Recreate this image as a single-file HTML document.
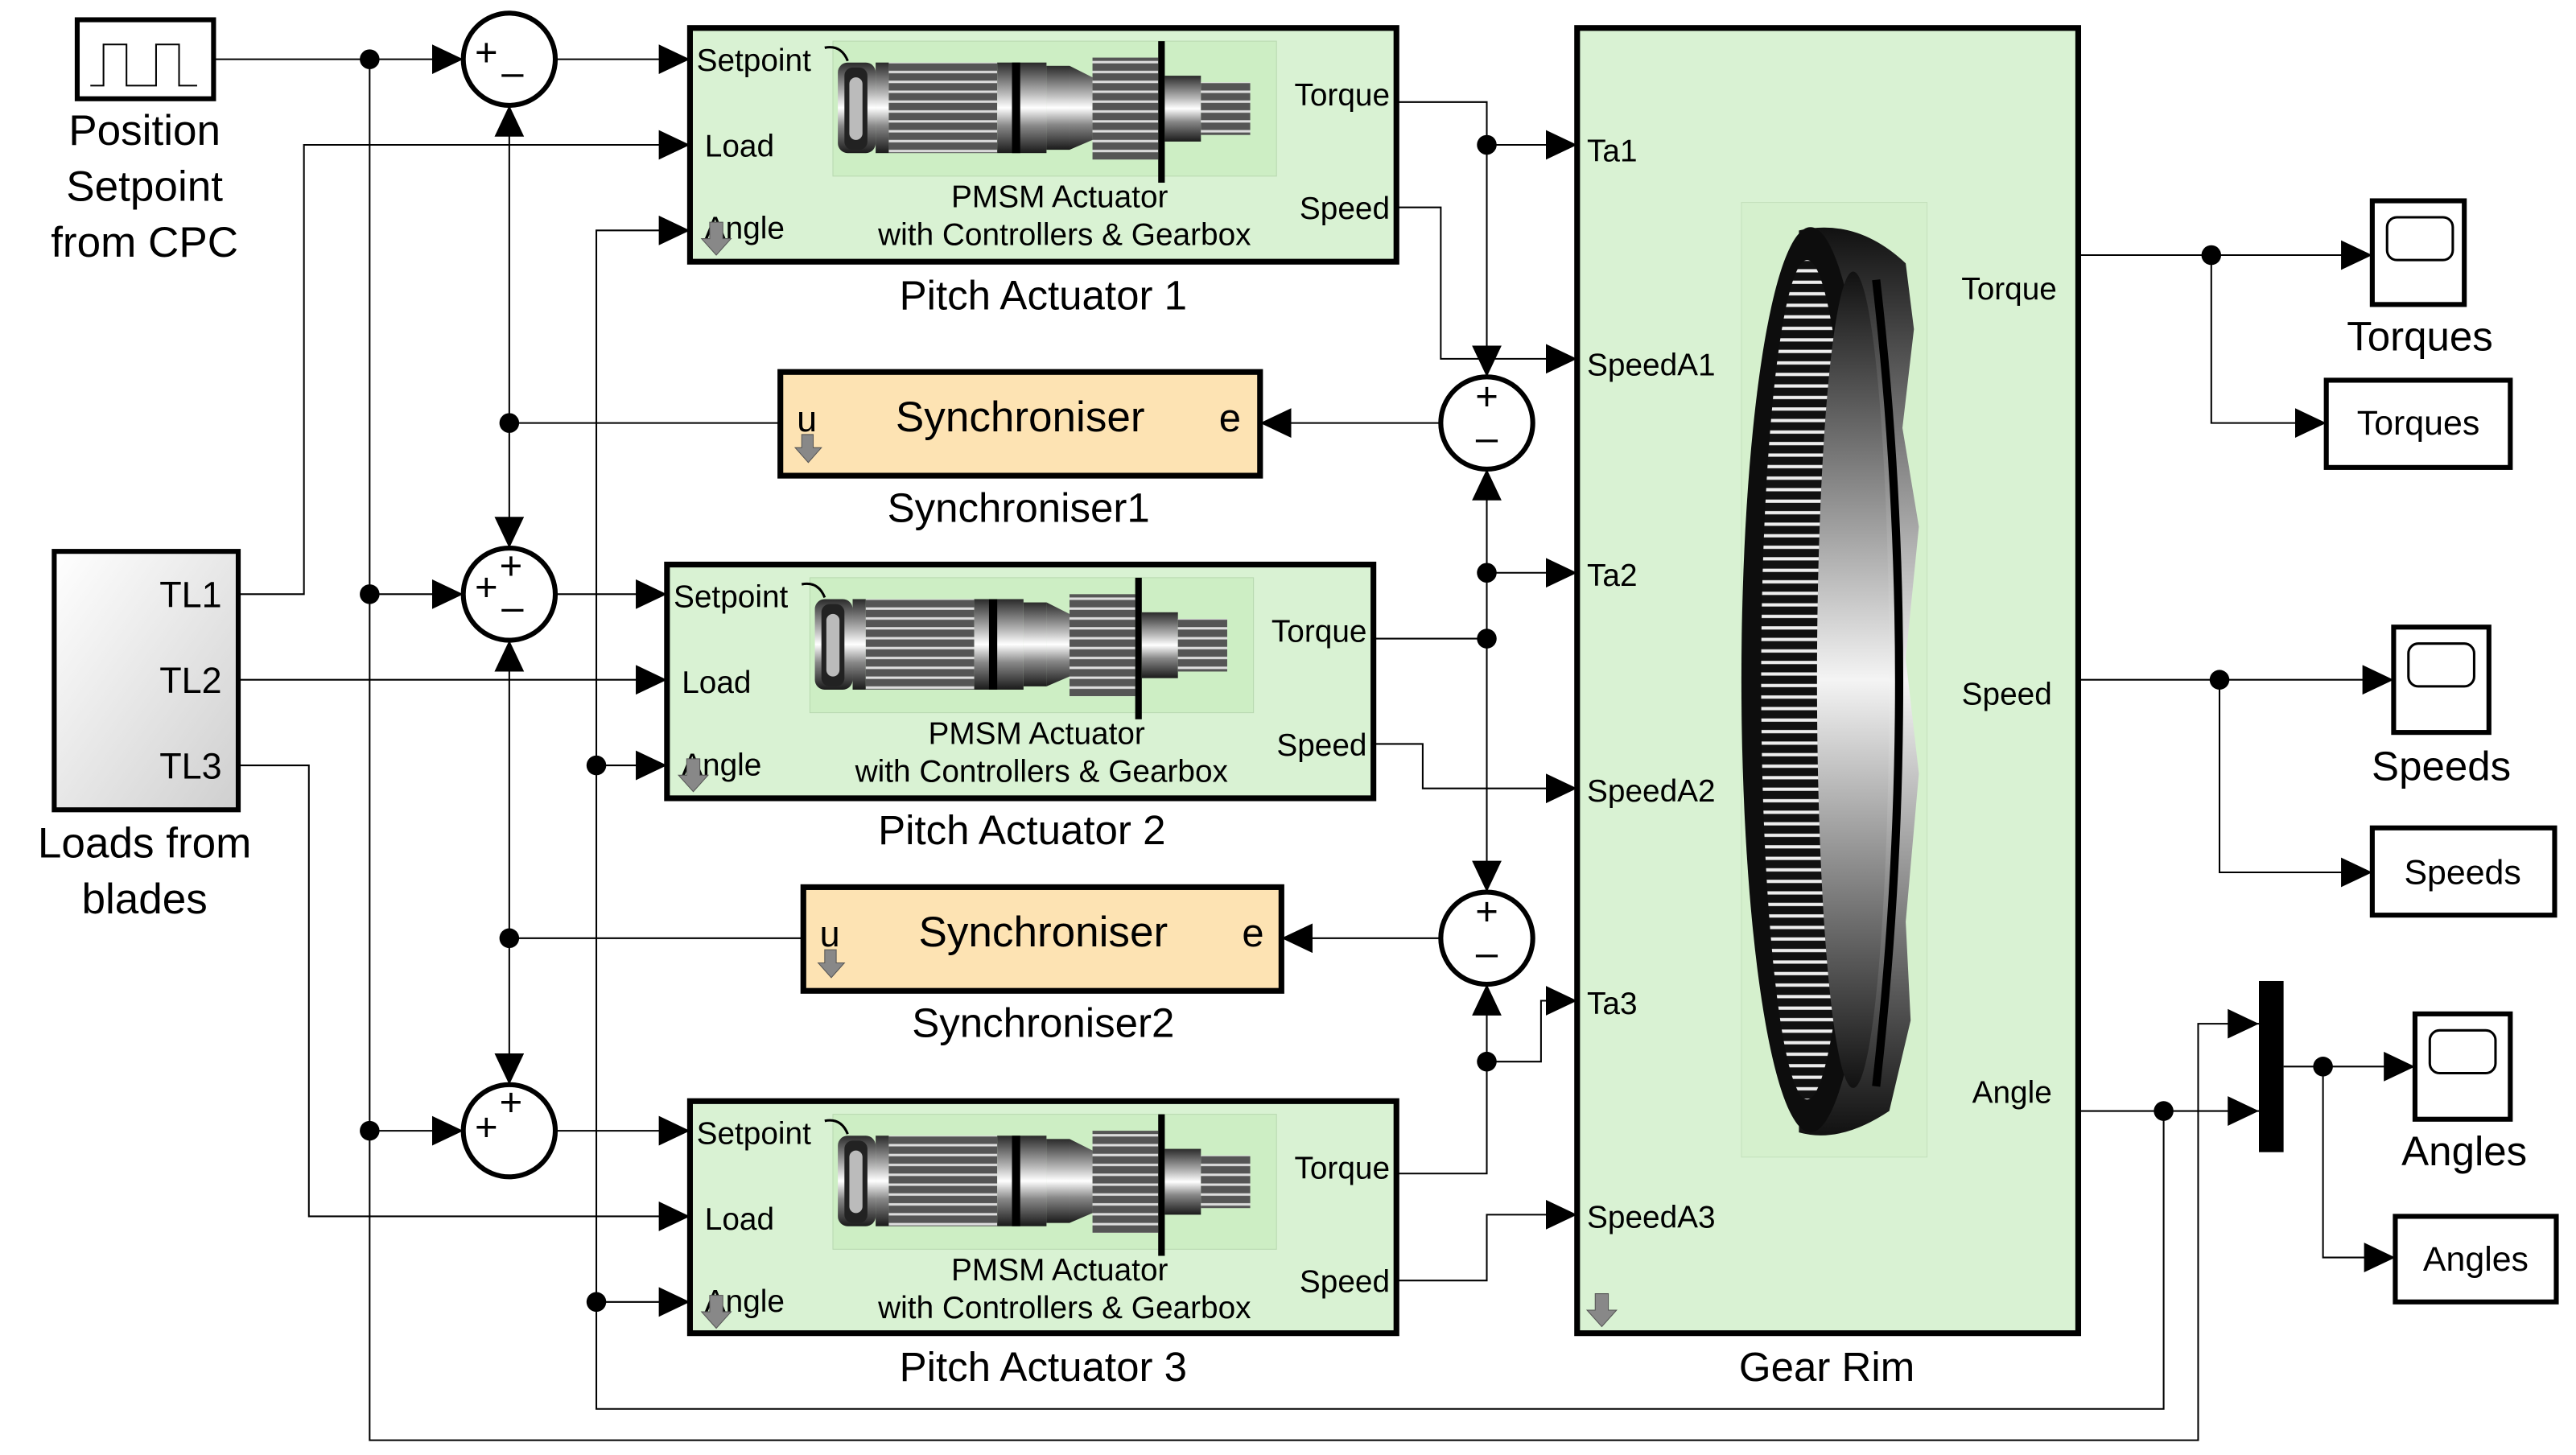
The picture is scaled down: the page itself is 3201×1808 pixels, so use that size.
<!DOCTYPE html>
<html><head><meta charset="utf-8"><style>
html,body{margin:0;padding:0;background:#fff;}
svg{display:block;}
text{font-family:"Liberation Sans",sans-serif;fill:#000;}
</style></head><body>
<svg width="3201" height="1808" viewBox="0 0 1568 884" preserveAspectRatio="none" xmlns="http://www.w3.org/2000/svg">
<defs>
<linearGradient id="met" x1="0" y1="0" x2="0" y2="1">
<stop offset="0" stop-color="#2a2a2a"/><stop offset=".35" stop-color="#bbb"/><stop offset=".5" stop-color="#fff"/><stop offset=".7" stop-color="#888"/><stop offset="1" stop-color="#1a1a1a"/></linearGradient>
<linearGradient id="ring" x1="0" y1="0" x2="0" y2="1">
<stop offset="0" stop-color="#111"/><stop offset=".5" stop-color="#f4f4f4"/><stop offset="1" stop-color="#111"/></linearGradient>
<linearGradient id="loads" x1="0" y1="0" x2="1" y2="1">
<stop offset="0" stop-color="#fff"/><stop offset="1" stop-color="#cfcfcf"/></linearGradient>
<pattern id="teeth" width="10" height="7" patternUnits="userSpaceOnUse"><rect width="10" height="7" fill="#111"/><rect y="2.5" width="10" height="2" fill="#eee"/></pattern>
<pattern id="str" width="10" height="6" patternUnits="userSpaceOnUse"><rect width="10" height="6" fill="#555"/><rect y="2" width="10" height="1.5" fill="#ddd"/></pattern>
<marker id="ar" markerWidth="20" markerHeight="20" refX="19" refY="9" orient="auto" markerUnits="userSpaceOnUse"><path d="M0,0 L19,9 L0,18 Z" fill="#000"/></marker>
<g id="motor">
<rect x="87" y="8" width="270" height="82" fill="#cdeec4" stroke="#b8d8b0" stroke-width=".5"/>
<path d="M82,12 q10,-2 14,8" stroke="#000" fill="none" stroke-width="1.5"/>
<rect x="90" y="21" width="23" height="55" rx="6" fill="url(#met)"/>
<rect x="94" y="24" width="14" height="50" rx="5" fill="#222"/>
<rect x="97" y="30" width="8" height="38" rx="4" fill="#bbb"/>
<rect x="113" y="21" width="8" height="55" fill="url(#met)"/>
<rect x="121" y="21" width="66" height="55" fill="url(#str)"/>
<rect x="187" y="21" width="30" height="55" fill="url(#met)"/>
<rect x="196" y="21" width="5" height="55" fill="#000"/>
<rect x="217" y="23" width="14" height="51" fill="url(#met)"/>
<path d="M231,23 L245,30 L245,68 L231,74 Z" fill="url(#met)"/>
<rect x="245" y="18" width="40" height="62" fill="url(#str)"/>
<rect x="285" y="8" width="4" height="86" fill="#000"/>
<rect x="289" y="29" width="22" height="40" fill="url(#met)"/>
<rect x="311" y="33" width="30" height="32" fill="url(#str)"/>
</g>
</defs>

<g stroke="#000" stroke-width="1" fill="none">
<line x1="130" y1="36" x2="282" y2="36" marker-end="url(#ar)"/>
<polyline points="225,36 225,875 1338,875 1338,622 1375,622" marker-end="url(#ar)"/>
<line x1="225" y1="361" x2="282" y2="361" marker-end="url(#ar)"/>
<line x1="225" y1="687" x2="282" y2="687" marker-end="url(#ar)"/>
<line x1="338" y1="36" x2="420" y2="36" marker-end="url(#ar)"/>
<line x1="338" y1="361" x2="406" y2="361" marker-end="url(#ar)"/>
<line x1="338" y1="687" x2="420" y2="687" marker-end="url(#ar)"/>
<line x1="310" y1="257" x2="310" y2="64" marker-end="url(#ar)"/>
<line x1="310" y1="257" x2="310" y2="333" marker-end="url(#ar)"/>
<line x1="310" y1="257" x2="475" y2="257"/>
<line x1="310" y1="570" x2="310" y2="389" marker-end="url(#ar)"/>
<line x1="310" y1="570" x2="310" y2="659" marker-end="url(#ar)"/>
<line x1="310" y1="570" x2="489" y2="570"/>
<line x1="877" y1="257" x2="767" y2="257" marker-end="url(#ar)"/>
<line x1="877" y1="570" x2="780" y2="570" marker-end="url(#ar)"/>
<polyline points="145,361 185,361 185,88 420,88" marker-end="url(#ar)"/>
<line x1="145" y1="413" x2="406" y2="413" marker-end="url(#ar)"/>
<polyline points="145,465 188,465 188,739 420,739" marker-end="url(#ar)"/>
<polyline points="1265,675 1375,675" marker-end="url(#ar)"/>
<polyline points="1317,675 1317,856 363,856 363,140 420,140" marker-end="url(#ar)"/>
<line x1="363" y1="465" x2="406" y2="465" marker-end="url(#ar)"/>
<line x1="363" y1="791" x2="420" y2="791" marker-end="url(#ar)"/>
<polyline points="850,62 905,62 905,229" marker-end="url(#ar)"/>
<line x1="905" y1="88" x2="960" y2="88" marker-end="url(#ar)"/>
<polyline points="850,126 877,126 877,218 960,218" marker-end="url(#ar)"/>
<line x1="905" y1="388" x2="905" y2="285" marker-end="url(#ar)"/>
<line x1="905" y1="348" x2="960" y2="348" marker-end="url(#ar)"/>
<line x1="836" y1="388" x2="905" y2="388"/>
<line x1="905" y1="388" x2="905" y2="542" marker-end="url(#ar)"/>
<polyline points="836,452 866,452 866,479 960,479" marker-end="url(#ar)"/>
<polyline points="850,713 905,713 905,598" marker-end="url(#ar)"/>
<polyline points="905,645 938,645 938,608 960,608" marker-end="url(#ar)"/>
<polyline points="850,778 905,778 905,738 960,738" marker-end="url(#ar)"/>
<line x1="1265" y1="155" x2="1444" y2="155" marker-end="url(#ar)"/>
<polyline points="1346,155 1346,257 1416,257" marker-end="url(#ar)"/>
<line x1="1265" y1="413" x2="1457" y2="413" marker-end="url(#ar)"/>
<polyline points="1351,413 1351,530 1444,530" marker-end="url(#ar)"/>
<line x1="1390" y1="648" x2="1470" y2="648" marker-end="url(#ar)"/>
<polyline points="1414,648 1414,764 1458,764" marker-end="url(#ar)"/>
</g>

<g fill="#000">
<circle cx="225" cy="36" r="6"/><circle cx="225" cy="361" r="6"/><circle cx="225" cy="687" r="6"/>
<circle cx="310" cy="257" r="6"/><circle cx="310" cy="570" r="6"/>
<circle cx="363" cy="465" r="6"/><circle cx="363" cy="791" r="6"/>
<circle cx="905" cy="88" r="6"/><circle cx="905" cy="348" r="6"/><circle cx="905" cy="388" r="6"/><circle cx="905" cy="645" r="6"/>
<circle cx="1317" cy="675" r="6"/><circle cx="1346" cy="155" r="6"/><circle cx="1351" cy="413" r="6"/><circle cx="1414" cy="648" r="6"/>
</g>

<rect x="47" y="12" width="83" height="48" fill="#fff" stroke="#000" stroke-width="3"/>
<polyline points="55,52 63,52 63,27 77,27 77,52 95,52 95,27 109,27 109,52 120,52" fill="none" stroke="#000" stroke-width="1"/>
<g font-size="26" text-anchor="middle"><text x="88" y="88">Position</text><text x="88" y="122">Setpoint</text><text x="88" y="156">from CPC</text></g>

<rect x="33" y="335" width="112" height="157" fill="url(#loads)" stroke="#000" stroke-width="3"/>
<g font-size="22" text-anchor="end"><text x="135" y="369">TL1</text><text x="135" y="421">TL2</text><text x="135" y="473">TL3</text></g>
<g font-size="26" text-anchor="middle"><text x="88" y="521">Loads from</text><text x="88" y="555">blades</text></g>

<g fill="#fff" stroke="#000" stroke-width="3">
<circle cx="310" cy="36" r="28"/><circle cx="310" cy="361" r="28"/><circle cx="310" cy="687" r="28"/>
<circle cx="905" cy="257" r="28"/><circle cx="905" cy="570" r="28"/></g>
<g font-size="24" text-anchor="middle">
<text x="296" y="40">+</text><text x="312" y="52">–</text>
<text x="296" y="365">+</text><text x="311" y="352">+</text><text x="312" y="377">–</text>
<text x="296" y="693">+</text><text x="311" y="678">+</text>
<text x="905" y="249">+</text><text x="905" y="274">–</text>
<text x="905" y="562">+</text><text x="905" y="587">–</text></g>

<g font-size="19">
<g transform="translate(420,17)">
<rect width="430" height="142" fill="#d9f2d3" stroke="#000" stroke-width="3.5"/>
<use href="#motor"/>
<text x="4" y="26">Setpoint</text><text x="9" y="78">Load</text><text x="9" y="128">Angle</text>
<path d="M12,118 h8 v10 h5 l-9,10 l-9,-10 h5 z" fill="#888" stroke="#555" stroke-width=".5"/>
<text x="426" y="47" text-anchor="end">Torque</text><text x="426" y="116" text-anchor="end">Speed</text>
<text x="225" y="109" text-anchor="middle">PMSM Actuator</text><text x="228" y="132" text-anchor="middle">with Controllers &amp; Gearbox</text>
</g>
<g transform="translate(406,343)">
<rect width="430" height="142" fill="#d9f2d3" stroke="#000" stroke-width="3.5"/>
<use href="#motor"/>
<text x="4" y="26">Setpoint</text><text x="9" y="78">Load</text><text x="9" y="128">Angle</text>
<path d="M12,118 h8 v10 h5 l-9,10 l-9,-10 h5 z" fill="#888" stroke="#555" stroke-width=".5"/>
<text x="426" y="47" text-anchor="end">Torque</text><text x="426" y="116" text-anchor="end">Speed</text>
<text x="225" y="109" text-anchor="middle">PMSM Actuator</text><text x="228" y="132" text-anchor="middle">with Controllers &amp; Gearbox</text>
</g>
<g transform="translate(420,669)">
<rect width="430" height="141" fill="#d9f2d3" stroke="#000" stroke-width="3.5"/>
<use href="#motor"/>
<text x="4" y="26">Setpoint</text><text x="9" y="78">Load</text><text x="9" y="128">Angle</text>
<path d="M12,118 h8 v10 h5 l-9,10 l-9,-10 h5 z" fill="#888" stroke="#555" stroke-width=".5"/>
<text x="426" y="47" text-anchor="end">Torque</text><text x="426" y="116" text-anchor="end">Speed</text>
<text x="225" y="109" text-anchor="middle">PMSM Actuator</text><text x="228" y="132" text-anchor="middle">with Controllers &amp; Gearbox</text>
</g>
</g>
<g font-size="25" text-anchor="middle">
<text x="635" y="188">Pitch Actuator 1</text><text x="622" y="513">Pitch Actuator 2</text><text x="635" y="839">Pitch Actuator 3</text>
<text x="620" y="317">Synchroniser1</text><text x="635" y="630">Synchroniser2</text><text x="1112" y="839">Gear Rim</text>
<text x="1473" y="213">Torques</text><text x="1486" y="474">Speeds</text><text x="1500" y="708">Angles</text>
</g>

<g>
<rect x="475" y="226" width="292" height="63" fill="#fde3b3" stroke="#000" stroke-width="3.5"/>
<text x="485" y="262" font-size="22">u</text><text x="742" y="262" font-size="24">e</text>
<text x="621" y="262" font-size="26" text-anchor="middle">Synchroniser</text>
<path d="M488,264 h7 v8 h5 l-8,9 l-8,-9 h4 z" fill="#888" stroke="#555" stroke-width=".5"/>
<rect x="489" y="539" width="291" height="63" fill="#fde3b3" stroke="#000" stroke-width="3.5"/>
<text x="499" y="575" font-size="22">u</text><text x="756" y="575" font-size="24">e</text>
<text x="635" y="575" font-size="26" text-anchor="middle">Synchroniser</text>
<path d="M502,577 h7 v8 h5 l-8,9 l-8,-9 h4 z" fill="#888" stroke="#555" stroke-width=".5"/>
</g>

<rect x="960" y="17" width="305" height="793" fill="#d9f2d3" stroke="#000" stroke-width="3.5"/>
<rect x="1060" y="123" width="113" height="580" fill="#d5f0cd" stroke="#c4e0bc" stroke-width=".5"/>
<path d="M1095,140 Q1130,132 1160,160 L1165,200 L1158,260 L1168,320 L1160,400 L1168,470 L1160,560 L1163,620 L1150,675 Q1120,695 1095,688 Z" fill="url(#ring)"/>
<ellipse cx="1102" cy="413" rx="42" ry="275" fill="#0d0d0d"/>
<ellipse cx="1100" cy="413" rx="28" ry="255" fill="url(#teeth)"/>
<ellipse cx="1128" cy="413" rx="22" ry="248" fill="url(#ring)"/>
<path d="M1142,170 Q1170,413 1142,660" stroke="#000" stroke-width="5" fill="none"/>
<g font-size="19"><text x="966" y="98">Ta1</text><text x="966" y="228">SpeedA1</text><text x="966" y="356">Ta2</text><text x="966" y="487">SpeedA2</text><text x="966" y="616">Ta3</text><text x="966" y="746">SpeedA3</text>
<text x="1252" y="182" text-anchor="end">Torque</text><text x="1249" y="428" text-anchor="end">Speed</text><text x="1249" y="670" text-anchor="end">Angle</text></g>
<path d="M971,786 h8 v10 h5 l-9,10 l-9,-10 h5 z" fill="#888" stroke="#555" stroke-width=".5"/>

<g stroke="#000" stroke-width="3" fill="#fff">
<rect x="1444" y="122" width="56" height="63"/><rect x="1457" y="381" width="58" height="64"/><rect x="1470" y="616" width="58" height="64"/>
<rect x="1453" y="132" width="40" height="26" rx="6" stroke-width="1.5"/><rect x="1466" y="391" width="40" height="26" rx="6" stroke-width="1.5"/><rect x="1479" y="626" width="40" height="26" rx="6" stroke-width="1.5"/>
<rect x="1416" y="231" width="112" height="53"/><rect x="1444" y="503" width="111" height="53"/><rect x="1458" y="739" width="98" height="52"/>
</g>
<g font-size="21" text-anchor="middle"><text x="1472" y="264">Torques</text><text x="1499" y="537">Speeds</text><text x="1507" y="772">Angles</text></g>
<rect x="1375" y="596" width="15" height="104" fill="#000"/>
</svg>
</body></html>
